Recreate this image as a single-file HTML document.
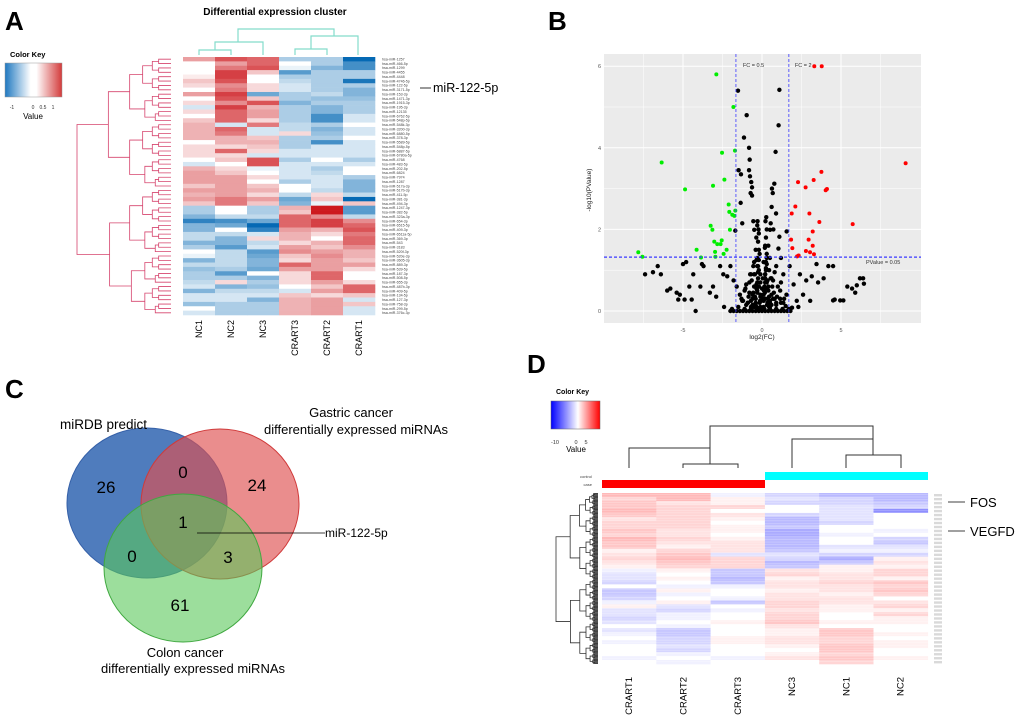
<!DOCTYPE html>
<html><head><meta charset="utf-8"><style>
html,body{margin:0;padding:0;background:#fff;}
svg{display:block;font-family:"Liberation Sans",Arial,sans-serif;}
</style></head><body>
<svg id="fig" width="1020" height="716" viewBox="0 0 1020 716" xmlns="http://www.w3.org/2000/svg">
<g id="pA">
<text x="5" y="30" font-size="26" font-weight="bold">A</text>
<text x="275" y="15" font-size="10" font-weight="bold" text-anchor="middle">Differential expression cluster</text>
<defs>
<linearGradient id="gA" x1="0" x2="1"><stop offset="0" stop-color="#1f78c0"/><stop offset="0.45" stop-color="#ffffff"/><stop offset="0.55" stop-color="#ffffff"/><stop offset="1" stop-color="#d33a3a"/></linearGradient>
<linearGradient id="gD" x1="0" x2="1"><stop offset="0" stop-color="#0000ff"/><stop offset="0.55" stop-color="#ffffff"/><stop offset="1" stop-color="#ff0000"/></linearGradient>
</defs>
<text x="10" y="57" font-size="7.5" font-weight="bold">Color Key</text>
<rect x="5" y="63" width="57" height="34" fill="url(#gA)" stroke="#999" stroke-width="0.5"/>
<g font-size="5" fill="#333">
<text x="12" y="109" text-anchor="middle">-1</text><text x="33" y="109" text-anchor="middle">0</text><text x="43" y="109" text-anchor="middle">0.5</text><text x="53" y="109" text-anchor="middle">1</text></g>
<text x="33" y="119" font-size="8" text-anchor="middle">Value</text>
<line x1="420" y1="88" x2="431" y2="88" stroke="#000" stroke-width="0.8"/>
<text x="433" y="92" font-size="12.5">miR-122-5p</text>
</g>
<g id="pB">
<text x="548" y="30" font-size="26" font-weight="bold">B</text>
</g>
<g id="pC">
<text x="5" y="398" font-size="26" font-weight="bold">C</text>
<ellipse cx="147" cy="503" rx="80" ry="75" fill="rgba(40,95,175,0.82)" stroke="#3560a8" stroke-width="1"/>
<ellipse cx="220" cy="504" rx="79" ry="75" fill="rgba(222,80,80,0.65)" stroke="#d03a3a" stroke-width="1"/>
<ellipse cx="183" cy="568" rx="79" ry="74" fill="rgba(90,200,90,0.6)" stroke="#40a840" stroke-width="1"/>
<g font-size="17" text-anchor="middle" fill="#000">
<text x="106" y="493">26</text><text x="183" y="478">0</text><text x="257" y="491">24</text><text x="183" y="528">1</text><text x="132" y="562">0</text><text x="228" y="563">3</text><text x="180" y="611">61</text></g>
<text x="60" y="429" font-size="13.5">miRDB predict</text>
<text x="351" y="417" font-size="13" text-anchor="middle">Gastric cancer</text>
<text x="356" y="434" font-size="13" text-anchor="middle">differentially expressed miRNAs</text>
<text x="185" y="657" font-size="13" text-anchor="middle">Colon cancer</text>
<text x="193" y="673" font-size="13" text-anchor="middle">differentially expressed miRNAs</text>
<line x1="197" y1="533" x2="325" y2="533" stroke="#000" stroke-width="0.8"/>
<text x="325" y="537" font-size="12">miR-122-5p</text>
</g>
<g id="pD">
<text x="527" y="373" font-size="26" font-weight="bold">D</text>
<text x="556" y="394" font-size="7" font-weight="bold">Color Key</text>
<rect x="551" y="401" width="49" height="28" fill="url(#gD)" stroke="#666" stroke-width="0.5"/>
<g font-size="5.5" fill="#333"><text x="555" y="444" text-anchor="middle">-10</text><text x="576" y="444" text-anchor="middle">0</text><text x="586" y="444" text-anchor="middle">5</text></g>
<text x="576" y="452" font-size="8" text-anchor="middle">Value</text>
<text x="592" y="478" font-size="4" fill="#444" text-anchor="end">control</text>
<text x="592" y="486" font-size="4" fill="#444" text-anchor="end">case</text>
<rect x="765" y="472" width="163" height="8" fill="#00ffff"/>
<rect x="602" y="480" width="163" height="8" fill="#ff0000"/>
<g stroke="#333" stroke-width="1" fill="none">
<path d="M710,448V426H873V439"/><path d="M629,468V448H710V464"/><path d="M683,468V464H738V468"/><path d="M792,468V439H873V455"/><path d="M846,468V455H901V468"/></g>
<line x1="948" y1="502" x2="965" y2="502" stroke="#000" stroke-width="0.8"/>
<text x="970" y="507" font-size="13">FOS</text>
<line x1="948" y1="531" x2="965" y2="531" stroke="#000" stroke-width="0.8"/>
<text x="970" y="536" font-size="13">VEGFD</text>
</g>
</svg>
<script>
// ===== Panel A data =====
const colsA = ["NC1","NC2","NC3","CRART3","CRART2","CRART1"];
const heatA = [
[0.5,0.9,0.8,-0.4,-0.4,-1.2],[0,0.5,0.8,0,-0.4,-0.9],[0,0.7,0.9,-0.1,-0.6,-0.9],[0,1.0,0.3,-0.8,-0.4,-0.4],
[0.1,1.0,0,-0.4,-0.4,-0.4],[0.3,0.9,0,-0.3,-0.4,-1.1],[0.2,0.6,0.2,-0.2,-0.4,-0.4],[0,0.7,0.2,-0.2,-0.4,-0.6],
[0.5,1.0,-0.7,-0.4,-0.3,-0.6],[0,0.9,0.3,-0.4,-0.5,-0.5],[0.2,0.6,0.9,-0.6,-0.4,-0.4],[-0.2,1.0,0.4,-0.4,-0.6,-0.4],
[0.2,0.8,0.5,-0.4,-0.6,-0.4],[0,0.8,0.5,-0.4,-0.9,-0.2],[0.3,0.8,0.2,-0.4,-0.9,-0.2],[0.4,-0.2,0.7,-0.3,-0.4,0],
[0.4,0.8,-0.2,-0.3,-0.6,-0.2],[0.4,0.7,-0.2,0.2,-0.5,-0.2],[0.4,0.4,0.3,-0.4,-0.4,0],[0,0.4,0.4,-0.4,-0.9,-0.2],
[0.2,0.2,0.3,-0.4,-0.2,-0.2],[0.2,0.8,0.2,-0.2,-0.2,-0.2],[0.2,0.2,-0.2,-0.2,-0.2,-0.2],[0,0.3,0.9,-0.4,0,-0.4],
[-0.2,0,0.9,-0.2,-0.2,-0.2],[0.4,0.2,-0.1,-0.2,-0.4,0],[0.5,0.3,0,-0.2,-0.3,0],[0.5,0.5,0.2,-0.2,-0.2,-0.4],
[0.5,0.5,0,-0.4,-0.2,-0.6],[0.3,0.5,0.3,0,-0.2,-0.6],[0.5,0.5,0.4,0,-0.3,-0.6],[0.4,0.5,0.2,-0.3,0.2,-0.3],
[0.5,0.7,0.5,-0.7,0.3,-1.2],[0.3,0.7,0.3,-0.6,-0.1,0.3],[-0.4,0,-0.4,0.4,1.2,-0.8],[-0.4,0,-0.4,0.3,1.2,-0.8],
[-0.6,-0.3,-0.3,0.8,0.6,-0.3],[-1.0,-0.9,-0.7,0.8,1.0,0.6],[-0.6,-0.7,-1.2,0.8,1.0,0.8],[-0.6,0,-1.0,0.5,0.4,0.9],
[-0.3,-0.3,-0.2,0.4,0.2,0.7],[-0.3,-0.6,0.2,0.4,0,0.8],[-0.6,-0.6,-0.3,0.2,0.4,0.8],[-0.4,-0.8,-0.2,0.5,0.3,0.6],
[0,-0.3,-0.8,0.6,0.5,0.4],[-0.1,-0.3,-0.7,0.3,0.6,0.4],[-0.6,-0.3,-0.6,0.2,0.5,0.3],[-0.3,-0.3,-0.6,0.8,0.5,0.5],
[-0.5,-0.4,-0.7,0.5,0.5,0.2],[-0.4,-0.8,0,0.2,0.8,0],[-0.4,-0.4,-0.6,0.2,0.8,0],[-0.3,0.2,-0.4,0.2,0.5,0.2],
[-0.2,-0.6,-0.5,0,0.3,0.8],[-0.6,-0.3,-0.3,-0.2,0.5,0.8],[-0.2,-0.2,-0.2,0.3,0.2,0.3],[-0.2,-0.2,-0.6,0.4,0.5,-0.2],
[-0.5,-0.4,-0.4,0.4,0.5,0.3],[0,-0.4,-0.4,0.4,0.5,-0.2],[-0.2,-0.4,-0.4,0.4,0.5,-0.2]];
const rowsA = ["hsa-miR-1257","hsa-miR-466-5p","hsa-miR-1299","hsa-miR-4455","hsa-miR-4448","hsa-miR-4746-5p","hsa-miR-122-5p","hsa-miR-3171-5p","hsa-miR-153-3p","hsa-miR-1471-3p","hsa-miR-1915-3p","hsa-miR-195-3p","hsa-miR-12135","hsa-miR-6762-5p","hsa-miR-548p-5p","hsa-miR-548k-3p","hsa-miR-3200-3p","hsa-miR-6880-5p","hsa-miR-378-3p","hsa-miR-5589-5p","hsa-miR-548p-5p","hsa-miR-6887-5p","hsa-miR-6780a-5p","hsa-miR-4768","hsa-miR-483-5p","hsa-miR-202-5p","hsa-miR-6824","hsa-miR-7974","hsa-miR-1287","hsa-miR-517a-3p","hsa-miR-517b-3p","hsa-miR-411-5p","hsa-miR-381-3p","hsa-miR-494-3p","hsa-miR-1247-3p","hsa-miR-382-5p","hsa-miR-323a-3p","hsa-miR-654-3p","hsa-miR-6515-5p","hsa-miR-409-3p","hsa-miR-6511a-5p","hsa-miR-369-3p","hsa-miR-543","hsa-miR-3183","hsa-miR-520f-3p","hsa-miR-520e-3p","hsa-miR-3605-3p","hsa-miR-889-3p","hsa-miR-539-5p","hsa-miR-187-3p","hsa-miR-508-5p","hsa-miR-655-3p","hsa-miR-487b-3p","hsa-miR-409-5p","hsa-miR-134-5p","hsa-miR-127-3p","hsa-miR-758-3p","hsa-miR-299-5p","hsa-miR-376c-3p"];
// ===== Panel B data =====
const greenX = [-7.83,-7.57,-6.35,-4.87,-4.14,-3.86,-3.25,-3.14,-3.10,-3.02,-2.97,-2.95,-2.89,-2.83,-2.62,-2.55,-2.53,-2.43,-2.38,-2.24,-2.11,-2.07,-2.03,-1.88,-1.81,-1.75,-1.71,-1.69];
const greenY = [1.44,1.33,3.64,2.98,1.50,1.31,2.09,1.99,3.07,1.70,1.45,1.33,5.80,1.64,1.64,1.73,3.88,1.40,3.22,1.50,2.61,2.43,1.99,2.36,5.0,2.33,3.93,2.46];
const redX = [1.84,1.92,1.88,2.11,2.22,2.28,2.32,2.76,2.78,2.95,3.00,3.04,3.21,3.21,3.27,3.29,3.31,3.63,3.76,3.78,4.03,4.11,5.74,9.09];
const redY = [1.75,1.54,2.39,2.56,1.34,3.16,1.36,3.03,1.47,1.75,2.39,1.44,1.95,1.60,3.21,1.39,6.0,2.18,3.41,6.0,2.96,2.99,2.13,3.62];
const blackX = [-1.52,1.10,-0.97,1.05,-1.14,-0.82,0.86,-0.78,-1.48,-1.33,-0.82,-0.76,-0.68,-0.63,-0.72,-0.63,0.78,0.63,0.68,0.61,0.89,-1.35,-1.25,-1.69,-0.55,-0.49,1.56,-0.36,0.72,0.55,0.51,1.20,1.10,1.04,
-6.6,-6.4,-7.4,-6.9,-6.0,-5.8,-5.4,-5.2,-5.0,-4.8,-5.3,-4.9,-4.45,-4.2,-4.6,-4.35,-3.8,-3.7,-3.9,-3.3,-3.1,-2.9,-2.65,-2.45,-2.2,-2.0,-1.8,-1.6,-1.4,-1.2,-1.0,-0.75,-0.55,-0.35,-0.25,-0.12,0.1,0.2,0.3,0.4,0.5,0.7,0.9,1.15,1.35,1.55,1.75,2.0,2.2,2.4,2.6,2.8,3.05,3.15,3.45,3.55,3.9,4.2,4.5,4.6,4.5,4.95,5.15,5.4,5.7,5.9,6.0,6.2,6.4,6.45,
-1.3,-1.1,-0.9,-0.8,-0.6,-0.5,-0.4,-0.3,-0.25,-0.2,-0.15,-0.1,-0.3,-0.2,-0.25,-0.2,-0.3,-0.35,-0.2,-0.1,0.1,0.15,0.2,0.25,0.3,0.2,0.25,0.3,0.35,0.4,0.5,0.6,0.8,1.0,1.2,1.4,0.3,0.25,0.2,-0.25,-0.3,-0.5,-0.7,-1.0,0.6,0.9,1.2,-0.4,0.4,-0.15,0.15,
-0.6,-0.45,-0.35,-0.1,0.05,0.12,0.35,0.45,-0.5,-0.4,-0.3,-0.05,0.05,0.18,0.32,0.5,-0.2,-0.1,0.1,0.2,-0.7,0.7,-0.9,0.9,-1.5,1.5,-1.9,1.9,-2.4,2.3,
-2.0,-1.8,-1.6,-1.4,-1.2,-1.0,-0.8,-0.6,-0.4,-0.2,0,0.2,0.4,0.6,0.8,1.0,1.2,1.4,1.6,1.8,-1.1,-0.7,-0.3,0.1,0.5,0.9,1.3,1.7,
-0.3,-0.2,-0.25,-0.35,-0.15,0.2,0.25,0.3,0.18,0.28,-0.45,-0.55,-0.65,-0.85,-1.05,-1.25,0.45,0.55,0.65,0.75,0.95,1.15,1.35,-0.28,-0.22,0.22,0.27,-0.4,-0.6,-0.8,0.35,0.45,0.6,-0.1,0.0,0.1,-0.5,0.5,-0.7,0.8];
const blackY = [5.40,5.42,4.80,4.55,4.25,4.0,3.9,3.71,3.45,3.35,3.45,3.3,3.16,3.03,2.89,2.83,3.12,3.0,2.89,2.55,2.39,2.65,2.15,1.97,2.2,1.99,1.95,1.8,2.0,2.15,1.99,1.3,1.82,1.53,
1.1,0.9,0.9,0.95,0.5,0.55,0.45,0.4,1.15,1.2,0.28,0.28,0.28,0,0.6,0.9,1.15,1.1,0.6,0.45,0.6,0.35,1.1,0.9,0.85,1.1,0.75,0.6,0.4,0.25,0.65,0.9,1.1,1.25,0.6,0.25,0.4,0.9,1.15,0.6,0.25,0.75,1.1,0.5,0.9,0.4,1.1,0.65,0.25,0.9,0.4,0.75,0.25,0.85,1.15,0.7,0.8,1.1,1.1,0.28,0.26,0.26,0.26,0.6,0.55,0.45,0.63,0.8,0.8,0.67,
0.3,0.5,0.2,0.7,0.4,0.9,0.3,0.5,0.8,1.0,0.2,0.4,1.3,1.5,1.7,1.9,2.1,0.1,0.6,0.1,0.1,0.6,0.9,1.2,1.4,1.6,1.8,2.0,0.3,0.5,0.2,0.4,0.3,0.6,0.2,0.3,0.7,1.0,0.3,1.1,0.7,0.6,0.1,0.15,0.8,0.2,0.7,1.5,1.6,0.05,0.05,
0.15,0.35,0.55,0.7,0.8,0.5,0.75,0.35,0.1,0.2,0.45,0.25,0.3,0.45,0.15,0.1,0.6,0.9,1.2,0.7,0.25,0.3,0.2,0.15,0.1,0.12,0.05,0.08,0.1,0.1,
0,0,0,0,0,0,0,0,0,0,0,0,0,0,0,0,0,0,0,0,0.05,0.05,0.05,0.05,0.05,0.05,0.05,0.05,
1.1,1.25,0.95,0.65,1.4,0.8,1.05,1.3,1.55,0.55,0.9,0.45,0.75,0.35,0.55,0.25,1.0,0.8,0.6,0.45,0.35,0.3,0.2,2.2,2.0,2.2,2.3,0.15,0.3,0.45,0.2,0.1,0.15,0.35,0.55,0.25,1.2,1.3,0.9,0.95];
const xTicksB = [-5,0,5];
const xTickLabelsB = ["-5","0","5"];
const yTicksB = [0,2,4,6];
const fcLowB = -1.65, fcHighB = 1.7, pCutB = 1.32;
// ===== Panel D data =====
const colsD = ["CRART1","CRART2","CRART3","NC3","NC1","NC2"];
const heatD = [
[0.5,0.5,-0.1,-0.3,-0.5,-0.5],[0.3,0.5,0.1,-0.2,-0.3,-0.5],[0.4,0.2,0.1,-0.3,-0.3,-0.4],[0.4,0.3,0.3,0,-0.2,-0.3],
[0.5,0.3,0,0,-0.2,-0.8],[0.4,0.3,0.2,-0.3,-0.2,0],[0.2,0.3,0.1,-0.5,-0.2,0],[0.3,0.3,0,-0.5,-0.3,0],
[0.3,0.3,0.1,-0.4,0,0],[0.4,0.2,0.1,-0.6,0,-0.1],[0.3,0.2,0,-0.6,-0.1,0],[0.5,0.3,0.1,-0.5,0,-0.3],
[0.4,0.2,0.2,-0.5,0,-0.4],[0.4,0.1,0.2,-0.5,-0.2,-0.2],[0.1,0.3,0.2,-0.4,-0.1,-0.1],[0.2,0.4,-0.2,-0.2,-0.3,-0.3],
[0.3,0.5,0.3,-0.3,-0.6,0.1],[0.2,0.4,0.3,-0.5,-0.4,0.2],[0.1,0.3,0.3,-0.4,0.1,0.1],[-0.1,0.1,-0.4,0.2,0.1,0.3],
[-0.2,0,-0.4,0.3,0.2,0.3],[-0.2,0.1,-0.5,0.1,0.2,0.1],[-0.3,0,-0.4,0.2,0.3,0.4],[0,-0.1,-0.1,0.2,0.2,0.3],
[-0.4,0.1,0,0.1,0.2,0.4],[-0.4,-0.1,0,0.2,0.1,0.3],[-0.3,0,-0.1,0.2,0.2,0],[-0.1,0.1,-0.4,0.3,0.2,0.2],
[0.1,-0.2,0,0.3,0.1,0.3],[-0.2,-0.3,-0.1,0.2,0.1,0.1],[-0.2,-0.1,0,0.3,0,0.3],[-0.3,-0.1,0,0.3,0,0.1],
[-0.2,0,0.1,0.4,0.1,0.1],[0,-0.1,0,0.2,0,0],[-0.2,-0.4,0,0.1,0.4,0],[-0.1,-0.4,0,0.1,0.4,0.1],
[0,-0.3,0.1,0.2,0.3,0],[-0.1,-0.3,0.1,0.2,0.3,0.1],[0,-0.2,0,0.1,0.4,0.1],[0,-0.3,0,0,0.4,0],
[0,-0.1,0,0.1,0.3,0],[-0.1,0,-0.1,0.2,0.4,0.1],[0,-0.1,0,0,0.3,0]];

const NS="http://www.w3.org/2000/svg";
function mk(parent,tag,attrs){const e=document.createElementNS(NS,tag);for(const k in attrs)e.setAttribute(k,attrs[k]);parent.appendChild(e);return e;}
function lerp(a,b,t){return Math.round(a+(b-a)*t);}
function colA(v){const t=Math.min(1,Math.abs(v)/1.2);
 if(v>=0) return `rgb(${lerp(255,205,t)},${lerp(255,25,t)},${lerp(255,30,t)})`;
 return `rgb(${lerp(255,5,t)},${lerp(255,105,t)},${lerp(255,180,t)})`;}
function colD(v){const t=Math.min(1,Math.abs(v))*0.55;
 if(v>=0) return `rgb(255,${lerp(255,0,t)},${lerp(255,0,t)})`;
 return `rgb(${lerp(255,0,t)},${lerp(255,0,t)},255)`;}

function tree(g,lo,hi,rowY,leafX,rootX,n,color){
 if(lo===hi){return {x:leafX,y:rowY(lo)};}
 const mid=Math.floor((lo+hi)/2);
 const a=tree(g,lo,mid,rowY,leafX,rootX,n,color), b=tree(g,mid+1,hi,rowY,leafX,rootX,n,color);
 const size=hi-lo+1;
 const x=leafX-(leafX-rootX)*Math.pow(size/n,0.6);
 const p=mk(g,'path',{d:`M${a.x},${a.y}H${x}V${b.y}H${b.x}`,fill:'none',stroke:color,'stroke-width':0.8});
 
 
 return {x:x,y:(a.y+b.y)/2};
}

// ===== Panel A =====
(function(){
 const pA=document.getElementById('pA');
 const x0=183,y0=57,cw=32,h=258,rh=h/heatA.length;
 const g=mk(pA,'g',{});
 
 
 heatA.forEach((row,i)=>row.forEach((v,j)=>{
  const r=mk(g,'rect',{x:x0+j*cw,y:y0+i*rh,width:cw+0.3,height:rh+0.3,fill:colA(v)});
  
  
 }));
 const lg=mk(pA,'g',{'font-size':3.6,fill:'#444'});
 
 
 rowsA.forEach((s,i)=>{const t=mk(lg,'text',{x:382,y:y0+i*rh+rh*0.8});t.textContent=s;
  
  });
 colsA.forEach((s,j)=>{const cx=x0+j*cw+cw/2+3;
  const t=mk(pA,'text',{x:cx,y:320,'font-size':9,'text-anchor':'end',transform:`rotate(-90 ${cx} 320)`});t.textContent=s;
  
  });
 const dg=mk(pA,'g',{});
 
 
 tree(dg,0,heatA.length-1,i=>y0+i*rh+rh/2,171,77,heatA.length,'#d6456e');
 const tg=mk(pA,'g',{stroke:'#84dccb','stroke-width':1.2,fill:'none'});
 
 
 mk(tg,'path',{d:'M238,42V29H334V36'});mk(tg,'path',{d:'M215,50V42H263V55'});mk(tg,'path',{d:'M199,55V50H231V55'});
 mk(tg,'path',{d:'M311,49V36H358V55'});mk(tg,'path',{d:'M295,55V49H327V55'});
})();

// ===== Panel B =====
(function(){
 const pB=document.getElementById('pB');
 const L=604,R=921,T=54,B=323;
 const sx=v=>762+v*15.8, sy=v=>311-v*40.8;
 const bg=mk(pB,'rect',{x:L,y:T,width:R-L,height:B-T,fill:'#ebebeb'});
 
 
 const gg=mk(pB,'g',{stroke:'#fff'});
 
 
 [-7.5,-2.5,2.5,7.5].forEach(v=>mk(gg,'line',{x1:sx(v),x2:sx(v),y1:T,y2:B,'stroke-width':0.5}));
 [1,3,5].forEach(v=>mk(gg,'line',{x1:L,x2:R,y1:sy(v),y2:sy(v),'stroke-width':0.5}));
 xTicksB.forEach(v=>mk(gg,'line',{x1:sx(v),x2:sx(v),y1:T,y2:B,'stroke-width':1}));
 yTicksB.forEach(v=>mk(gg,'line',{x1:L,x2:R,y1:sy(v),y2:sy(v),'stroke-width':1}));
 const tk=mk(pB,'g',{'font-size':5.5,fill:'#555'});
 
 
 xTicksB.forEach((v,i)=>{const t=mk(tk,'text',{x:sx(v),y:332,'text-anchor':'middle'});t.textContent=xTickLabelsB[i];});
 yTicksB.forEach(v=>{const t=mk(tk,'text',{x:L-3,y:sy(v)+2,'text-anchor':'end'});t.textContent=String(v);});
 const xl=mk(pB,'text',{x:762,y:339,'font-size':6.5,'text-anchor':'middle',fill:'#222'});xl.textContent='log2(FC)';
 
 
 const yl=mk(pB,'text',{x:591,y:190,'font-size':6.5,'text-anchor':'middle',fill:'#222',transform:'rotate(-90 591 190)'});yl.textContent='-log10(PValue)';
 
 
 const pts=mk(pB,'g',{});
 
 
 blackX.forEach((v,i)=>{const c=mk(pts,'circle',{cx:sx(v),cy:sy(blackY[i]),r:2.2,fill:'#000'});
  
  });
 greenX.forEach((v,i)=>{const c=mk(pts,'circle',{cx:sx(v),cy:sy(greenY[i]),r:2,fill:'#00ee00'});
  
  });
 redX.forEach((v,i)=>{const c=mk(pts,'circle',{cx:sx(v),cy:sy(redY[i]),r:2,fill:'#ff0000'});
  
  });
 const th=mk(pB,'g',{stroke:'#3a3aff','stroke-dasharray':'3,2',fill:'none'});
 
 
 mk(th,'line',{x1:sx(fcLowB),x2:sx(fcLowB),y1:T,y2:B,'stroke-width':0.8});
 mk(th,'line',{x1:sx(fcHighB),x2:sx(fcHighB),y1:T,y2:B,'stroke-width':0.8});
 mk(th,'line',{x1:L,x2:R,y1:sy(pCutB),y2:sy(pCutB),'stroke-width':1.2});
 const a1=mk(pB,'text',{x:sx(fcLowB)+7,y:67,'font-size':5.5,fill:'#333'});a1.textContent='FC =  0.5';
 
 
 const a2=mk(pB,'text',{x:sx(fcHighB)+6,y:67,'font-size':5.5,fill:'#333'});a2.textContent='FC =  2';
 
 
 const a3=mk(pB,'text',{x:866,y:264,'font-size':5.5,fill:'#333'});a3.textContent='PValue =  0.05';
 
 
})();

// ===== Panel D =====
(function(){
 const pD=document.getElementById('pD');
 const x0=602,y0=493,cw=54.3,h=171,rh=h/heatD.length;
 const g=mk(pD,'g',{});
 
 
 heatD.forEach((row,i)=>row.forEach((v,j)=>{
  const r=mk(g,'rect',{x:x0+j*cw,y:y0+i*rh,width:cw+0.3,height:rh+0.3,fill:colD(v)});
  
  
 }));
 const sep=mk(pD,'g',{stroke:'#fff','stroke-width':0.4});
 
 
 for(let i=1;i<heatD.length*3;i+=2){mk(sep,'line',{x1:x0,x2:x0+6*cw,y1:y0+i*rh/3,y2:y0+i*rh/3,opacity:0.5});}
 const lg=mk(pD,'g',{fill:'#aaa'});
 
 
 heatD.forEach((r,i)=>{mk(lg,'rect',{x:934,y:y0+i*rh+1,width:8,height:rh-1.6,opacity:0.45});});
 colsD.forEach((s,j)=>{const cx=x0+j*cw+cw/2+3;
  const t=mk(pD,'text',{x:cx,y:677,'font-size':9.5,'text-anchor':'end',transform:`rotate(-90 ${cx} 677)`});t.textContent=s;
  
  });
 const dg=mk(pD,'g',{});
 
 
 const n=heatD.length*3;
 mk(dg,'rect',{x:593,y:y0,width:5,height:h,fill:'#777'});
 tree(dg,0,n-1,i=>y0+i*h/n+h/n/2,598,556,n,'#333');
})();
</script>
</body></html>
